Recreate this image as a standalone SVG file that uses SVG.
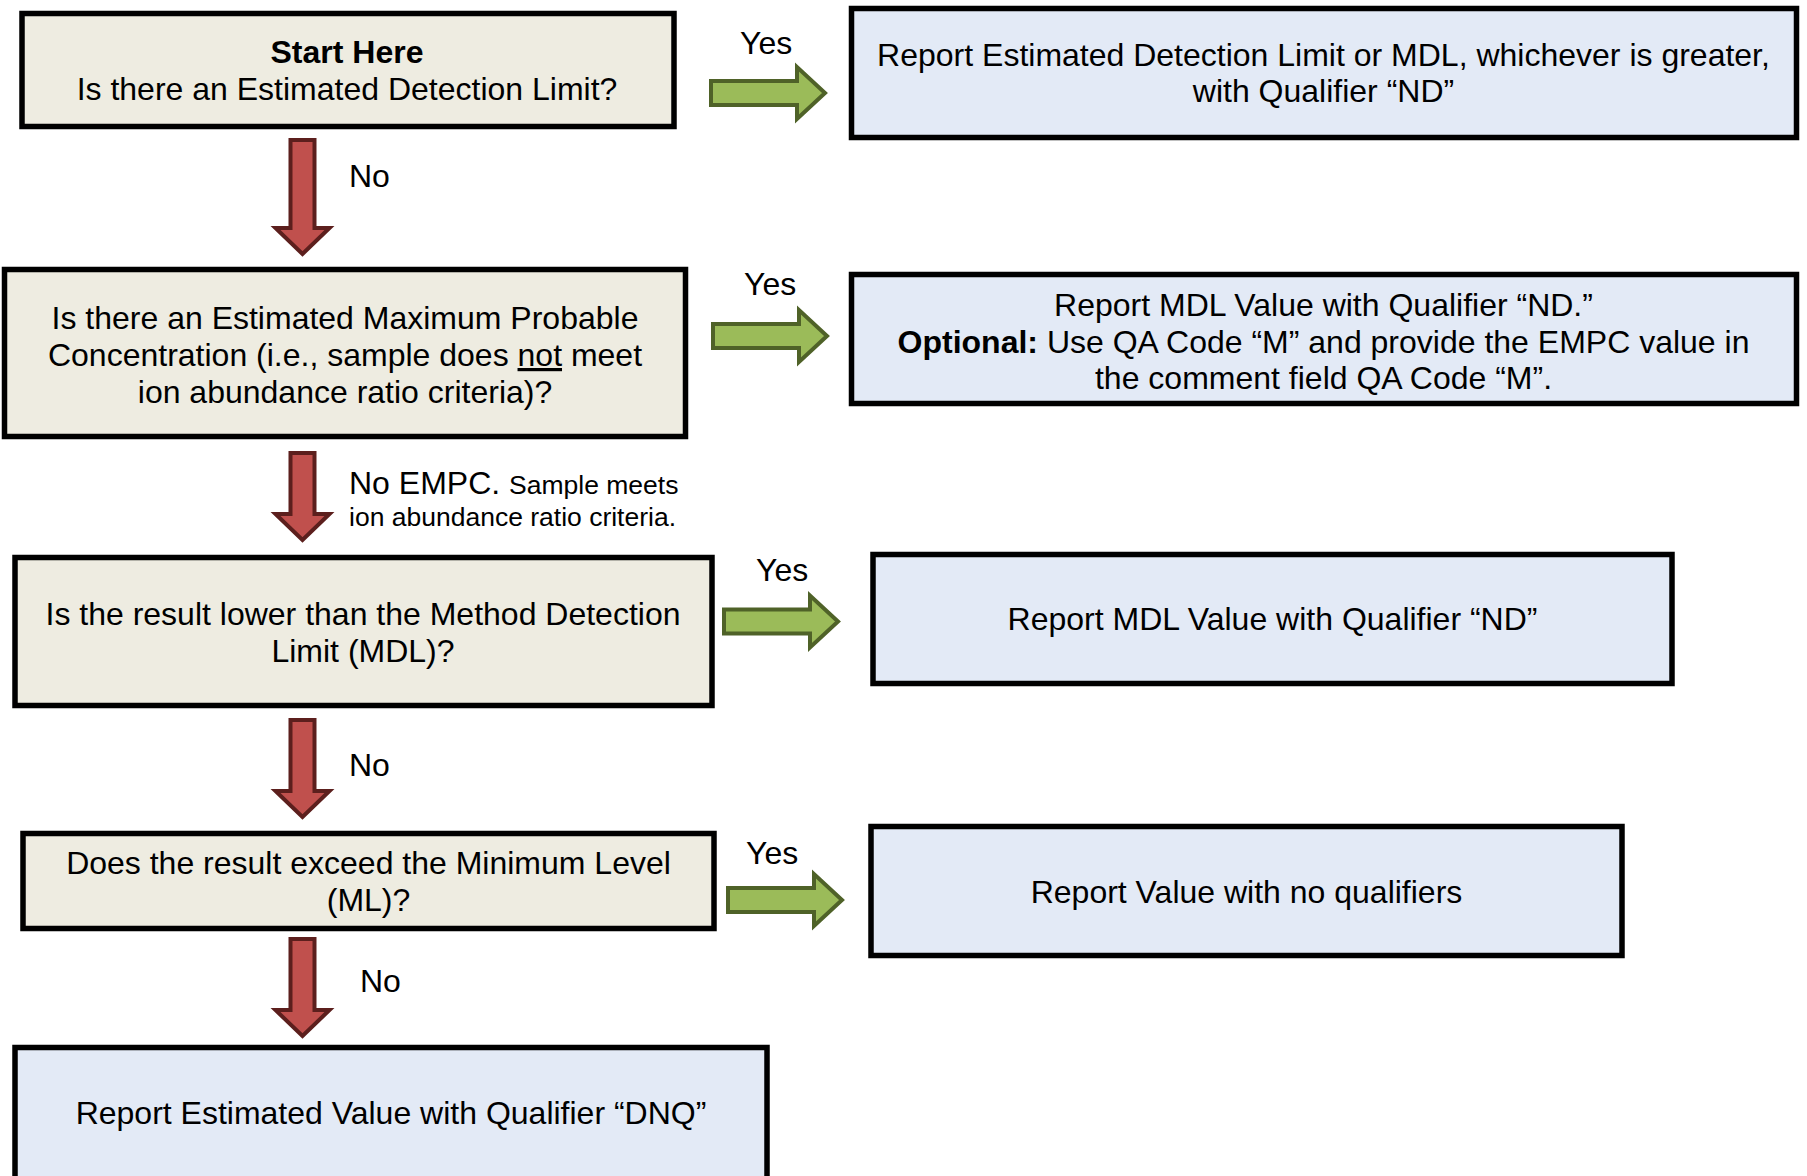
<svg xmlns="http://www.w3.org/2000/svg" width="1807" height="1176" viewBox="0 0 1807 1176">
<style>
  .q { fill: #EEECE1; stroke: #000; stroke-width: 5.5; }
  .r { fill: #E3EAF6; stroke: #000; stroke-width: 5.5; }
  text { font-family: "Liberation Sans", Arial, sans-serif; font-size: 32px; fill: #000; }
  .c { text-anchor: middle; }
  .b { font-weight: bold; }
  .sm { font-size: 26.5px; }
  .g { fill: #9BBB59; stroke: #4F6228; stroke-width: 4; }
  .rd { fill: #C0504D; stroke: #5C1F1D; stroke-width: 4; }
</style>
<rect width="1807" height="1176" fill="#fff"/>

<g id="connectors">
  <path class="g" d="M711,81 H797 V67 L825,93 L797,119 V105 H711 Z"/>
  <path class="g" d="M713,324 H799 V310 L827,336 L799,362 V348 H713 Z"/>
  <path class="g" d="M724,609.5 H810 V595.5 L838,621.5 L810,647.5 V633.5 H724 Z"/>
  <path class="g" d="M728,888 H814 V874 L842,900 L814,926 V912 H728 Z"/>
  <path class="rd" d="M290.5,140 H314.5 V228 H329.5 L302.5,254 L275.5,228 H290.5 Z"/>
  <path class="rd" d="M290.5,453 H314.5 V514 H329.5 L302.5,540 L275.5,514 H290.5 Z"/>
  <path class="rd" d="M290.5,720 H314.5 V791 H329.5 L302.5,817 L275.5,791 H290.5 Z"/>
  <path class="rd" d="M290.5,939 H314.5 V1010 H329.5 L302.5,1036 L275.5,1010 H290.5 Z"/>
  <text x="740" y="54">Yes</text>
  <text x="744" y="295">Yes</text>
  <text x="756" y="581">Yes</text>
  <text x="746" y="864">Yes</text>
  <text x="349" y="187">No</text>
  <text x="349" y="494">No EMPC. <tspan class="sm">Sample meets</tspan></text>
  <text class="sm" x="349" y="526">ion abundance ratio criteria.</text>
  <text x="349" y="776">No</text>
  <text x="360" y="992">No</text>
</g>

<g id="q1">
  <rect class="q" x="22" y="13.5" width="652" height="113"/>
  <text class="c b" x="347" y="63">Start Here</text>
  <text class="c" x="347" y="100">Is there an Estimated Detection Limit?</text>
</g>

<g id="r1">
  <rect class="r" x="851.5" y="8.5" width="945" height="129"/>
  <text class="c" x="1323.5" y="66">Report Estimated Detection Limit or MDL, whichever is greater,</text>
  <text class="c" x="1323.5" y="102">with Qualifier “ND”</text>
</g>

<g id="q2">
  <rect class="q" x="4.5" y="269.5" width="681" height="167"/>
  <text class="c" x="345" y="329">Is there an Estimated Maximum Probable</text>
  <text class="c" x="345" y="366">Concentration (i.e., sample does <tspan text-decoration="underline">not</tspan> meet</text>
  <text class="c" x="345" y="403">ion abundance ratio criteria)?</text>
</g>

<g id="r2">
  <rect class="r" x="851.5" y="274.5" width="945" height="129"/>
  <text class="c" x="1323.5" y="316">Report MDL Value with Qualifier “ND.”</text>
  <text class="c" x="1323.5" y="353"><tspan class="b">Optional:</tspan> Use QA Code “M” and provide the EMPC value in</text>
  <text class="c" x="1323.5" y="389">the comment field QA Code “M”.</text>
</g>

<g id="q3">
  <rect class="q" x="15" y="557.5" width="697" height="148"/>
  <text class="c" x="363" y="625">Is the result lower than the Method Detection</text>
  <text class="c" x="363" y="662">Limit (MDL)?</text>
</g>

<g id="r3">
  <rect class="r" x="873" y="554.5" width="799" height="129"/>
  <text class="c" x="1272.5" y="630">Report MDL Value with Qualifier “ND”</text>
</g>

<g id="q4">
  <rect class="q" x="23" y="833.5" width="691" height="95"/>
  <text class="c" x="368.5" y="874">Does the result exceed the Minimum Level</text>
  <text class="c" x="368.5" y="911">(ML)?</text>
</g>

<g id="r4">
  <rect class="r" x="871" y="826.5" width="751" height="129"/>
  <text class="c" x="1246.5" y="903">Report Value with no qualifiers</text>
</g>

<g id="r5">
  <rect class="r" x="15" y="1047.5" width="752" height="140"/>
  <text class="c" x="391" y="1124">Report Estimated Value with Qualifier “DNQ”</text>
</g>
</svg>
